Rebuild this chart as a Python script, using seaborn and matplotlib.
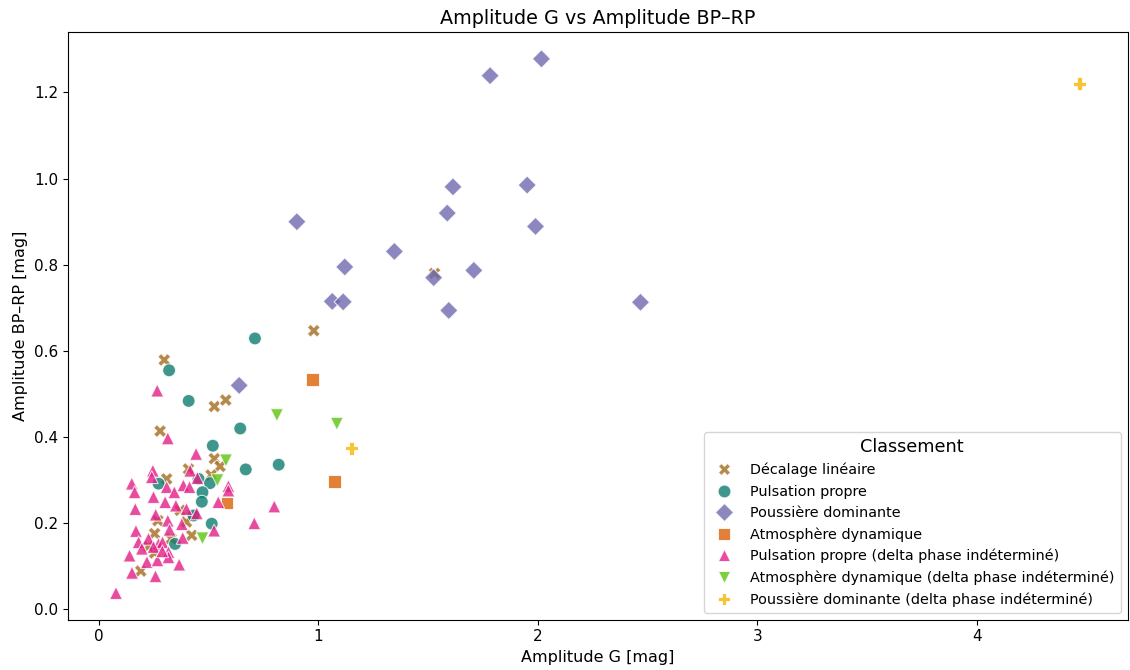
import numpy as np
import pandas as pd
import matplotlib
matplotlib.use("Agg")
import matplotlib.pyplot as plt
import seaborn as sns

# ---------- DATA ----------
classes = [
    "Décalage linéaire",
    "Pulsation propre",
    "Poussière dominante",
    "Atmosphère dynamique",
    "Pulsation propre (delta phase indéterminé)",
    "Atmosphère dynamique (delta phase indéterminé)",
    "Poussière dominante (delta phase indéterminé)",
]

decalage_x = [0.299, 0.527, 0.579, 0.280, 0.527, 0.553, 0.512, 0.310, 0.409, 0.371,
              0.424, 0.270, 0.400, 0.255, 0.424, 0.255, 0.192, 0.980, 1.530, 0.227, 0.330]
decalage_y = [0.579, 0.471, 0.486, 0.414, 0.350, 0.332, 0.312, 0.303, 0.326, 0.230,
              0.218, 0.206, 0.203, 0.176, 0.172, 0.131, 0.089, 0.647, 0.780, 0.146, 0.164]

pulsation_x = [0.321, 0.410, 0.645, 0.520, 0.670, 0.820, 0.455, 0.507, 0.273, 0.473,
               0.470, 0.432, 0.515, 0.348, 0.712]
pulsation_y = [0.555, 0.484, 0.420, 0.380, 0.325, 0.336, 0.303, 0.293, 0.292, 0.272,
               0.250, 0.218, 0.199, 0.152, 0.629]

poussiere_x = [2.017, 1.783, 1.614, 1.952, 1.588, 0.903, 1.990, 1.347, 1.121, 1.709,
               1.526, 1.064, 1.114, 1.595, 2.468, 0.640]
poussiere_y = [1.278, 1.239, 0.981, 0.985, 0.920, 0.900, 0.889, 0.831, 0.795, 0.787,
               0.770, 0.715, 0.714, 0.694, 0.713, 0.520]

atmo_x = [0.973, 1.074, 0.585]
atmo_y = [0.534, 0.296, 0.247]

puls_delta_x = [0.267, 0.315, 0.444, 0.247, 0.242, 0.417, 0.450, 0.151, 0.164, 0.310,
                0.345, 0.386, 0.414, 0.591, 0.591, 0.545, 0.250, 0.303, 0.167, 0.352,
                0.400, 0.260, 0.315, 0.447, 0.379, 0.800, 0.709, 0.526, 0.170, 0.323,
                0.383, 0.182, 0.227, 0.273, 0.291, 0.197, 0.318, 0.141, 0.220, 0.268,
                0.318, 0.367, 0.152, 0.259, 0.079, 0.250, 0.290]
puls_delta_y = [0.508, 0.397, 0.361, 0.322, 0.307, 0.322, 0.305, 0.292, 0.272, 0.284,
                0.272, 0.288, 0.284, 0.286, 0.276, 0.249, 0.261, 0.249, 0.233, 0.241,
                0.233, 0.220, 0.206, 0.223, 0.198, 0.239, 0.200, 0.183, 0.182, 0.185,
                0.166, 0.156, 0.164, 0.152, 0.156, 0.141, 0.133, 0.125, 0.110, 0.114,
                0.121, 0.104, 0.085, 0.077, 0.038, 0.145, 0.135]

atmo_delta_x = [0.812, 1.085, 0.580, 0.541, 0.473]
atmo_delta_y = [0.451, 0.431, 0.346, 0.300, 0.165]

pouss_delta_x = [4.468, 1.152]
pouss_delta_y = [1.220, 0.374]

all_x = [decalage_x, pulsation_x, poussiere_x, atmo_x, puls_delta_x, atmo_delta_x, pouss_delta_x]
all_y = [decalage_y, pulsation_y, poussiere_y, atmo_y, puls_delta_y, atmo_delta_y, pouss_delta_y]

frames = []
for name, xs, ys in zip(classes, all_x, all_y):
    frames.append(pd.DataFrame({"amp_g": xs, "amp_bprp": ys, "Classement": name}))
data = pd.concat(frames, ignore_index=True)

# ---------- STYLE ----------
palette = {
    classes[0]: "#a26c1e",
    classes[1]: "#0f7c6f",
    classes[2]: "#6f69b0",
    classes[3]: "#dd6006",
    classes[4]: "#e21f87",
    classes[5]: "#5bc30f",
    classes[6]: "#f5b700",
}
markers = {
    classes[0]: "X",
    classes[1]: "o",
    classes[2]: "D",
    classes[3]: "s",
    classes[4]: "^",
    classes[5]: "v",
    classes[6]: "P",
}

# ---------- PLOT ----------
fig, ax = plt.subplots(figsize=(11.3, 6.7), dpi=100)
sns.scatterplot(
    data=data, x="amp_g", y="amp_bprp",
    hue="Classement", style="Classement",
    hue_order=classes, style_order=classes,
    palette=palette, markers=markers,
    s=85, alpha=0.8, ax=ax
)

ax.set_title("Amplitude G vs Amplitude BP–RP", fontsize=13.8)
ax.set_xlabel("Amplitude G [mag]", fontsize=11.5)
ax.set_ylabel("Amplitude BP–RP [mag]", fontsize=11.5)
ax.tick_params(labelsize=11)

sns.move_legend(ax, "lower right", title="Classement", title_fontsize=12.7, fontsize=10.4)

fig.subplots_adjust(left=0.060, right=0.998, top=0.952, bottom=0.075)
plt.savefig("out.png", dpi=100)
